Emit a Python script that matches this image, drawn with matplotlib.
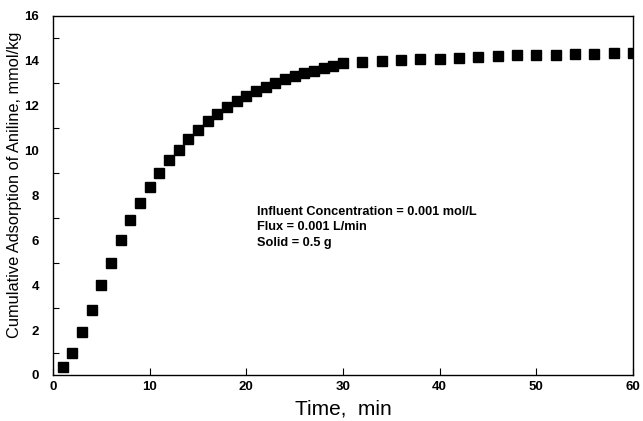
import matplotlib
matplotlib.use("Agg")
import matplotlib.pyplot as plt
import numpy as np

time_min = [1, 2, 3, 4, 5, 6, 7, 8, 9, 10, 11, 12, 13, 14, 15, 16, 17, 18, 19, 20,
            21, 22, 23, 24, 25, 26, 27, 28, 29, 30,
            32, 34, 36, 38, 40, 42, 44, 46, 48, 50, 52, 54, 56, 58, 60]
adsorption = [0.36, 1.0, 1.9, 2.9, 4.0, 5.0, 6.0, 6.9, 7.67, 8.37, 9.0, 9.57, 10.04, 10.5, 10.9,
              11.3, 11.64, 11.94, 12.19, 12.44, 12.64, 12.83, 13.0, 13.18, 13.33, 13.45, 13.57,
              13.67, 13.79, 13.9,
              13.96, 14.0, 14.04, 14.07, 14.1, 14.15, 14.17, 14.2, 14.24, 14.26, 14.28, 14.3,
              14.32, 14.33, 14.34]
x_ticks = [0, 10, 20, 30, 40, 50, 60]
y_ticks = [0, 2, 4, 6, 8, 10, 12, 14, 16]
annotation = ["Influent Concentration = 0.001 mol/L", "Flux = 0.001 L/min", "Solid = 0.5 g"]

plt.rcParams['font.family'] = ['Liberation Sans', 'DejaVu Sans']

fig = plt.figure(figsize=(6.43, 4.21), dpi=100)
ax = fig.add_axes([0.0824, 0.1093, 0.9020, 0.8527])
ax.plot(time_min, adsorption, linestyle='none', marker='s', markersize=6.7, color='black')
ax.set_xlim(0, 60)
ax.set_ylim(0, 16)
ax.set_xticks(x_ticks)
ax.set_yticks(y_ticks)
ax.set_yticks([1, 3, 5, 7, 9, 11, 13, 15], minor=True)
ax.tick_params(axis='x', which='major', direction='in', length=5, width=0.8, labelsize=9.5, pad=4)
ax.tick_params(axis='y', which='major', direction='in', length=0, labelsize=9.5, pad=10)
ax.tick_params(axis='y', which='minor', direction='in', length=4, width=0.8)
for lab in ax.get_xticklabels() + ax.get_yticklabels():
    lab.set_fontweight('bold')
for s in ax.spines.values():
    s.set_linewidth(1.0)
ax.set_xlabel("Time,  min", fontsize=15, labelpad=5)
ax.set_ylabel("Cumulative Adsorption of Aniline, mmol/kg", fontsize=11.8, va='center')
ax.yaxis.set_label_coords(-0.066, 0.53)
ax.text(0.351, 0.472, "\n".join(annotation), transform=ax.transAxes, fontsize=9.2,
        fontweight='bold', va='top', ha='left', linespacing=1.4)
fig.savefig("out.png", dpi=100)
